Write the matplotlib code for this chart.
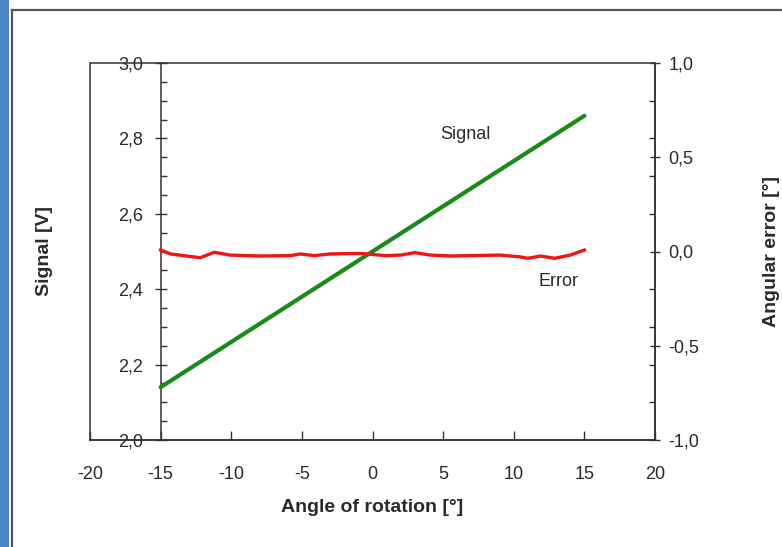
import matplotlib
matplotlib.use("Agg")
import matplotlib.pyplot as plt
from matplotlib.patches import Rectangle
from matplotlib.lines import Line2D
from matplotlib.ticker import FixedLocator, MultipleLocator, FuncFormatter

plt.rcParams['font.family'] = ['Liberation Sans', 'DejaVu Sans']

# Sensor output vs. rotation angle
angle_signal = [-15, -10, -5, 0, 5, 10, 15]
signal_v = [2.14, 2.26, 2.38, 2.50, 2.62, 2.74, 2.86]

# Angular error vs. rotation angle
angle_error = [-15.0, -14.3, -12.2, -11.2, -10.1, -8.0, -5.8, -5.1, -4.1, -3.0,
               -0.9, 0.9, 2.0, 3.0, 4.1, 5.5, 9.0, 10.4, 11.0, 11.9, 12.9, 14.0, 15.0]
error_deg = [0.008, -0.013, -0.033, -0.004, -0.019, -0.024, -0.022, -0.013, -0.022, -0.013,
             -0.010, -0.022, -0.019, -0.006, -0.019, -0.024, -0.019, -0.028, -0.036, -0.024,
             -0.036, -0.019, 0.008]

x_ticks = [-20, -15, -10, -5, 0, 5, 10, 15, 20]
signal_ticks = [2.0, 2.2, 2.4, 2.6, 2.8, 3.0]
error_ticks = [-1.0, -0.5, 0.0, 0.5, 1.0]

axis_col = '#333333'
text_col = '#2a2a2a'
tick_fs = 13
label_fs = 14

fig = plt.figure(figsize=(7.82, 5.47), dpi=100)
W, H = 782, 547

# page decorations: blue strip and outer frame
fig.patches.append(Rectangle((0, 0), 9 / W, 1, transform=fig.transFigure,
                             facecolor='#4f84c4', edgecolor='none', zorder=0))
fig.lines.append(Line2D([12 / W, 12 / W], [0, 1 - 10 / H], transform=fig.transFigure,
                        color='#555555', lw=1.6))
fig.lines.append(Line2D([12 / W, 1], [1 - 10 / H, 1 - 10 / H], transform=fig.transFigure,
                        color='#555555', lw=1.6))

left, right = 90 / W, 655 / W
bottom, top = 1 - 440 / H, 1 - 63 / H
ax = fig.add_axes([left, bottom, right - left, top - bottom])
ax.set_xlim(-20, 20)
ax.set_ylim(2.0, 3.0)

# box around the plotting region
ax.add_patch(Rectangle((0, 0), 1, 1, transform=ax.transAxes, fill=False,
                       edgecolor=axis_col, lw=1.1, zorder=3, clip_on=False))

for s in ['top', 'right']:
    ax.spines[s].set_visible(False)
ax.spines['left'].set_position(('data', -15))
ax.spines['left'].set_color(axis_col)
ax.spines['left'].set_linewidth(1.1)
ax.spines['bottom'].set_color(axis_col)
ax.spines['bottom'].set_linewidth(1.1)

comma = FuncFormatter(lambda v, p: f"{v:.1f}".replace('.', ','))
comma_int = FuncFormatter(lambda v, p: f"{v:.0f}")

ax.xaxis.set_major_locator(FixedLocator(x_ticks))
ax.xaxis.set_major_formatter(comma_int)
ax.tick_params(axis='x', which='major', direction='in', length=6.5, width=1.0,
               color=axis_col, labelsize=tick_fs, labelcolor=text_col, pad=19)

ax.yaxis.set_major_locator(FixedLocator(signal_ticks))
ax.yaxis.set_minor_locator(MultipleLocator(0.05))
ax.yaxis.set_major_formatter(comma)
ax.tick_params(axis='y', which='major', direction='inout', length=9, width=1.0,
               color=axis_col, labelsize=tick_fs, labelcolor=text_col, pad=8)
ax.tick_params(axis='y', which='minor', direction='in', length=4.5, width=1.0,
               color=axis_col)

ax.plot(angle_signal, signal_v, color='#1a8a1a', lw=3.0, solid_capstyle='round', zorder=4)

ax.set_xlabel('Angle of rotation [°]', fontsize=label_fs, fontweight='bold', color=text_col)
ax.xaxis.set_label_coords(0.5, -0.157)
ax.set_ylabel('Signal [V]', fontsize=label_fs, fontweight='bold', color=text_col)
ax.yaxis.set_label_coords(-0.066, 0.5)

ax2 = ax.twinx()
ax2.set_ylim(-1.0, 1.0)
for s in ['top', 'left', 'bottom']:
    ax2.spines[s].set_visible(False)
ax2.spines['right'].set_color(axis_col)
ax2.spines['right'].set_linewidth(1.1)
ax2.yaxis.set_major_locator(FixedLocator(error_ticks))
ax2.yaxis.set_minor_locator(MultipleLocator(0.2))
ax2.yaxis.set_major_formatter(comma)
ax2.tick_params(axis='y', which='major', direction='inout', length=7, width=1.0,
                color=axis_col, labelsize=tick_fs, labelcolor=text_col, pad=6)
ax2.tick_params(axis='y', which='minor', direction='in', length=4, width=1.0,
                color=axis_col)

ax2.plot(angle_error, error_deg, color='#ee1515', lw=2.4, zorder=4)
ax2.set_ylabel('Angular error [°]', fontsize=label_fs, fontweight='bold', color=text_col,
               rotation=90)
ax2.yaxis.set_label_coords(1.192, 0.5)

ax2.text(6.6, 0.62, 'Signal', fontsize=tick_fs, color=text_col, ha='center', va='center')
ax2.text(13.2, -0.16, 'Error', fontsize=tick_fs, color=text_col, ha='center', va='center')

fig.savefig('out.png', dpi=100, facecolor='white')
